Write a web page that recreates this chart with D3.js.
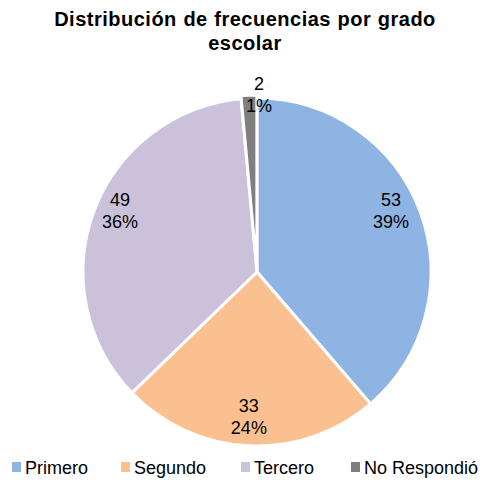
<!DOCTYPE html>
<html>
<head>
<meta charset="utf-8">
<script src="https://cdn.jsdelivr.net/npm/d3@7"></script>
<style>
  body { margin: 0; background: #fff; }
  text { font-family: "Liberation Sans", Arial, sans-serif; fill: #000; }
</style>
</head>
<body>
<div id="chart"></div>
<script>
// datos
const categories = ['Primero', 'Segundo', 'Tercero', 'No Respondió'];
const counts = [53, 33, 49, 2];
const colors = ['#8EB4E3', '#FAC090', '#CCC1DA', '#7F7F7F'];
const titleLines = ['Distribución de frecuencias por grado', 'escolar'];

const width = 484, height = 482;
const cx = 257, cy = 272, radius = 174;

const svg = d3.select('#chart').append('svg')
  .attr('width', width).attr('height', height);

svg.append('g')
  .selectAll('text')
  .data(titleLines)
  .join('text')
  .attr('x', 245)
  .attr('y', (d, i) => 26 + i * 24)
  .attr('text-anchor', 'middle')
  .attr('font-size', 20)
  .attr('font-weight', 'bold')
  .attr('letter-spacing', 0.5)
  .attr('word-spacing', 0.5)
  .text(d => d);

const total = d3.sum(counts);
const data = categories.map((c, i) => ({ name: c, value: counts[i], color: colors[i] }));

const pie = d3.pie().sort(null).value(d => d.value);
const arcs = pie(data);

const arc = d3.arc().innerRadius(0).outerRadius(radius);
const labelArc = d3.arc().innerRadius(radius * 0.83).outerRadius(radius * 0.83);

const g = svg.append('g').attr('transform', `translate(${cx},${cy})`);

g.selectAll('path')
  .data(arcs)
  .join('path')
  .attr('d', arc)
  .attr('fill', d => d.data.color)
  .attr('stroke', '#fff')
  .attr('stroke-width', 3)
  .attr('transform', d => {
    // la porción pequeña va un poco separada
    if (d.data.value / total > 0.05) return null;
    const m = (d.startAngle + d.endAngle) / 2;
    return `translate(${Math.sin(m) * 3},${-Math.cos(m) * 3})`;
  });

const labels = g.selectAll('g.lbl')
  .data(arcs)
  .join('g')
  .attr('class', 'lbl')
  .attr('transform', d => {
    const m = (d.startAngle + d.endAngle) / 2;
    if (d.data.value / total > 0.05) {
      const [x, y] = labelArc.centroid(d);
      // excel sube un poco las etiquetas laterales
      return `translate(${x - 1.5},${y - 12 * Math.abs(Math.sin(m))})`;
    }
    return `translate(2,${-radius - 4})`;
  });

labels.append('text')
  .attr('text-anchor', 'middle')
  .attr('font-size', 18)
  .attr('y', -4)
  .text(d => d.data.value);

labels.append('text')
  .attr('text-anchor', 'middle')
  .attr('font-size', 18)
  .attr('y', 18)
  .text(d => Math.round(d.data.value / total * 100) + '%');

// leyenda
const legendX = [12, 121, 241, 351];
const legend = svg.append('g')
  .selectAll('g')
  .data(data)
  .join('g')
  .attr('transform', (d, i) => `translate(${legendX[i]},462)`);

legend.append('rect')
  .attr('width', 9).attr('height', 10)
  .attr('fill', d => d.color);

legend.append('text')
  .attr('x', 13)
  .attr('y', 12)
  .attr('font-size', 18)
  .text(d => d.name);
</script>
</body>
</html>
